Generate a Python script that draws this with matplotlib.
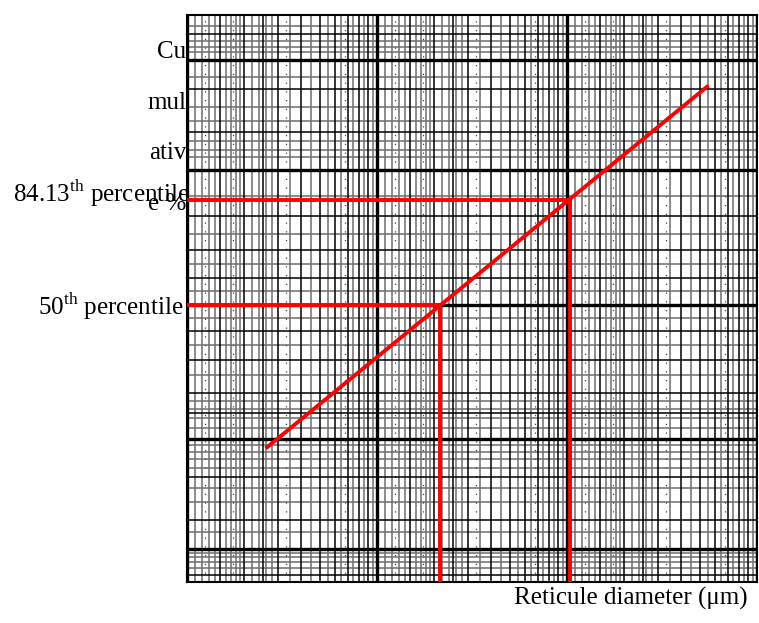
import numpy as np
import matplotlib
matplotlib.use('Agg')
import matplotlib.pyplot as plt
from statistics import NormalDist

plt.rcParams['font.family'] = ['Liberation Serif', 'DejaVu Serif']
plt.rcParams['mathtext.fontset'] = 'custom'
plt.rcParams['mathtext.rm'] = 'Liberation Serif'

nd = NormalDist()

def z(pct):
    # percent -> normal score, probability paper axis
    return np.array([nd.inv_cdf(p / 100.0) for p in np.atleast_1d(pct)])

# log-probability paper grid
x_lim = [1, 1000]
y_lim = [0.41, 99.71]
x_major = [1, 10, 100, 1000]
x_minor = [1.5, 2, 2.5, 3, 4, 5, 6, 7, 8, 9]
x_fine = [1.1, 1.2, 1.3, 1.4, 1.6, 1.7, 1.8, 1.9, 2.2, 2.4, 2.6, 2.8, 3.5, 4.5, 5.5, 6.5, 7.5, 8.5, 9.5]
y_major = [1, 10, 50, 90, 99]
y_minor = [0.5, 2, 5, 15, 20, 30, 40, 60, 70, 80, 95, 98, 99.5]
y_fine = [0.6, 0.7, 0.8, 0.9, 1.5, 3, 4, 6, 7, 8, 9, 12, 14, 16, 18, 25, 35, 45, 55, 65, 75,
          85, 92, 93, 94, 96, 97, 98.5, 99.2, 99.3, 99.4, 99.6]

# fitted size distribution line and percentiles read from it
line_diam = [2.64, 545]
line_pct = [8.7, 98.1]
perc_names = ['84.13$^{\\mathrm{th}}$ percentile', '50$^{\\mathrm{th}}$ percentile']
perc_pct = [84.13, 50]
perc_diam = [103.7, 21.5]
ylabel_parts = ['Cu', 'mul', 'ativ', 'e %']

W, H = 759, 623
fig = plt.figure(figsize=(W / 100, H / 100), dpi=100)
ax = fig.add_axes([187 / W, 1 - 582 / H, 570 / W, 567 / H])
ax.set_xscale('log')
ax.set_xlim(x_lim)
ax.set_ylim(z(y_lim))

decades = [1, 10, 100]
for d in decades:
    for v in x_fine:
        ax.axvline(v * d, color='#6e6e6e', lw=1.1, zorder=1)
    for v in x_minor:
        ax.axvline(v * d, color='black', lw=1.1, zorder=2)
for v in x_major:
    ax.axvline(v, color='black', lw=2.4, zorder=2)

for v in y_fine:
    ax.axhline(z(v)[0], color='#6e6e6e', lw=1.1, zorder=1)
for v in y_minor:
    ax.axhline(z(v)[0], color='black', lw=1.1, zorder=2)
for v in y_major:
    ax.axhline(z(v)[0], color='black', lw=2.4, zorder=2)

# faint dotted sub-grid
for d in decades:
    for v in [1.25, 1.75, 3.3, 6.8]:
        ax.axvline(v * d, color='#444444', lw=0.9, ls=(0, (1, 6)), zorder=1)

ax.plot(line_diam, z(line_pct), color='red', lw=2.8, zorder=5)
ybot = z(y_lim)[0]
for d, p in zip(perc_diam, perc_pct):
    zp = z(p)[0]
    ax.plot([x_lim[0], d], [zp, zp], color='red', lw=2.8, zorder=5)
    ax.plot([d, d], [zp, ybot], color='red', lw=2.8, zorder=5)

ax.set_xticks([])
ax.set_yticks([])
ax.minorticks_off()
for s in ax.spines.values():
    s.set_linewidth(1.5)

fs = 18
for txt, yb in zip(ylabel_parts, [58, 109, 159, 210]):
    fig.text(186 / W, 1 - yb / H, txt, ha='right', va='baseline', fontsize=fs)
fig.text(13 / W, 1 - 202 / H, perc_names[0], ha='left', va='baseline', fontsize=fs)
fig.text(38 / W, 1 - 315 / H, perc_names[1], ha='left', va='baseline', fontsize=fs)
fig.text(514 / W, 1 - 605 / H, 'Reticule diameter (\u03bcm)', ha='left', va='baseline', fontsize=fs)

fig.savefig('out.png', dpi=100)
